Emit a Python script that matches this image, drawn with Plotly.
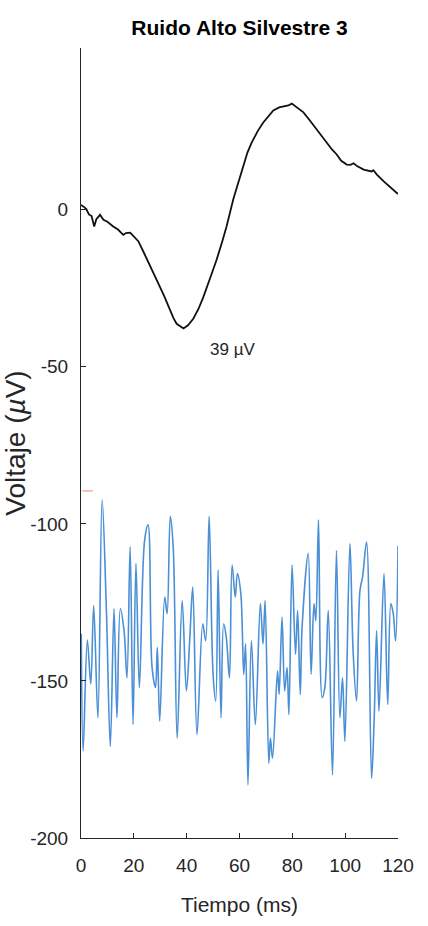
import plotly.graph_objects as go

# ---- data ----
erp_t = [0, 1, 2, 3, 4, 5, 5.8, 7.2, 8.5, 10, 12.2, 14, 16, 17, 18.6, 20, 21.7, 24, 26.1, 28,
         29.3, 31.5, 33.7, 35, 36.2, 37.5, 38.8, 40.5, 42.5, 44.5, 46.3, 49, 51.3, 53.5, 55.1,
         57.7, 59.5, 61.5, 63, 64.6, 67, 69, 71, 72.8, 75, 76.6, 78.5, 79.8, 81, 82.5, 84.2,
         86.5, 89.2, 91, 93, 95, 96.8, 98.5, 100.6, 102, 103.2, 104.5, 107, 108.5, 110, 110.7,
         112, 114.5, 117, 119.6, 120]
erp_v = [1.5, 1.0, 0.2, -1.5, -2.0, -5.3, -3.0, -1.6, -3.2, -3.8, -5.3, -6.3, -8.0, -7.4, -7.3,
         -8.5, -10.0, -14.0, -18.0, -21.5, -23.5, -27.5, -32.0, -34.5, -36.3, -37.2, -37.8,
         -36.8, -34.7, -31.5, -27.8, -21.5, -16.0, -10.0, -5.3, 3.5, 8.5, 14.0, 18.2, 21.4,
         25.2, 27.8, 30.0, 31.6, 32.6, 32.9, 33.2, 33.8, 33.0, 32.3, 31.0, 28.6, 25.6, 23.3,
         21.4, 19.2, 17.6, 15.6, 14.4, 14.3, 14.8, 13.9, 12.8, 12.5, 12.2, 12.6, 11.2, 9.1,
         7.3, 5.3, 5.0]

noise_t = [0.1, 0.8, 2.4, 3.7, 4.8, 6.4, 8.0, 9.6, 11.1, 12.5, 13.6, 14.9, 16.3, 17.4, 18.6,
           19.7, 20.8, 22.1, 24.1, 25.4, 26.9, 28.2, 28.9, 29.8, 31.7, 32.6, 33.8, 34.9, 36.4,
           38.3, 39.9, 41.2, 42.3, 43.9, 46.1, 47.2, 48.5, 50.0, 51.0, 51.9, 53.0, 54.0, 55.0,
           56.2, 57.2, 58.4, 59.2, 60.5, 61.6, 62.3, 63.2, 64.5, 66.0, 67.9, 68.9, 69.7, 71.1,
           71.7, 72.5, 74.4, 75.0, 76.1, 77.1, 78.0, 78.7, 79.9, 81.2, 82.0, 83.0, 83.7, 86.0,
           87.1, 88.2, 88.9, 89.9, 91.3, 92.3, 93.6, 95.2, 96.7, 98.0, 99.0, 99.9, 101.8, 103.0,
           104.3, 105.6, 106.6, 108.1, 110.0, 111.0, 111.9, 112.8, 114.7, 116.1, 117.3, 118.2,
           119.1, 120.0]
noise_v = [-135, -172.4, -137, -151, -126, -161.7, -92.3, -127, -170.8, -127, -161.7, -127,
           -134, -149, -107.3, -163.9, -112.6, -152.1, -105.1, -100.3, -145.7, -152.1, -139.3,
           -162.8, -123.3, -128.6, -97.6, -107.3, -168.2, -124.4, -153.2, -136.1, -120.1,
           -167.1, -131.8, -137.2, -97.6, -147.9, -156.4, -114.7, -161.7, -131.8, -136.1,
           -149.0, -113.1, -123.3, -115.8, -122.2, -147.9, -138.2, -183.1, -137.2, -163.9,
           -125.4, -138.2, -124.4, -176.2, -168.2, -174.6, -146.8, -154.3, -129.7, -153.2,
           -145.7, -160.7, -113.1, -141.5, -127.6, -154.3, -132.9, -109.4, -147.9, -125.4,
           -130.8, -98.7, -155.3, -152.1, -127.6, -179.9, -108.5, -161.7, -149.0, -169.2,
           -106.3, -140.4, -156.4, -121.2, -116.9, -105.8, -181.0, -161.7, -134.0, -159.6,
           -115.8, -157.5, -125.4, -128.6, -137.2, -107.0]

marker_t = [0.4, 4.5]
marker_v = [-89.5, -89.5]

x_ticks = [0, 20, 40, 60, 80, 100, 120]
x_tick_labels = ["0", "20", "40", "60", "80", "100", "120"]
y_ticks = [-200, -150, -100, -50, 0]
y_tick_labels = ["-200", "-150", "-100", "-50", "0"]

title_text = "Ruido Alto Silvestre 3"
x_title = "Tiempo (ms)"
y_title = "Voltaje (<i>µ</i>V)"
peak_label = "39 µV"
peak_pos = (57.2, -44.6)

FONT = "Liberation Sans, Arial, sans-serif"
INK = "#262626"

fig = go.Figure()
fig.add_trace(go.Scatter(x=noise_t, y=noise_v, mode="lines",
                         line=dict(color="#4b8fd6", width=1.6, shape="spline", smoothing=1.0),
                         name="Ruido", showlegend=False))
fig.add_trace(go.Scatter(x=marker_t, y=marker_v, mode="lines", line=dict(color="#f0b49a", width=1.5),
                         showlegend=False))
fig.add_trace(go.Scatter(x=erp_t, y=erp_v, mode="lines", line=dict(color="#111111", width=1.8),
                         name="PE", showlegend=False))

fig.add_annotation(x=peak_pos[0], y=peak_pos[1], text=peak_label, showarrow=False,
                   font=dict(family=FONT, size=17, color=INK), xanchor="center", yanchor="middle")

fig.update_layout(
    width=428, height=926,
    margin=dict(l=81, r=30, t=48, b=88),
    paper_bgcolor="white", plot_bgcolor="white",
    title=dict(text="<b>" + title_text + "</b>", x=(81 + 398) / 2 / 428, xanchor="center",
               y=1 - 28 / 926, yanchor="middle", yref="container",
               font=dict(family=FONT, size=21, color="black")),
    font=dict(family=FONT, color=INK),
)
fig.update_xaxes(range=[0, 120], tickvals=x_ticks, ticktext=x_tick_labels, ticks="inside",
                 ticklen=5, tickcolor=INK, automargin=False,
                 showline=True, linecolor=INK, linewidth=1, showgrid=False, zeroline=False,
                 tickfont=dict(family=FONT, size=19, color=INK), ticklabelstandoff=10,
                 title=dict(text=x_title, font=dict(family=FONT, size=21, color=INK), standoff=22))
fig.update_yaxes(range=[-200, 51.5], tickvals=y_ticks, ticktext=y_tick_labels, ticks="inside",
                 ticklen=5, tickcolor=INK, automargin=False,
                 showline=True, linecolor=INK, linewidth=1, showgrid=False, zeroline=False,
                 tickfont=dict(family=FONT, size=19, color=INK), ticklabelstandoff=8,
                 title=dict(text=y_title, font=dict(family=FONT, size=28, color=INK), standoff=0))

fig.write_html("out.html")
